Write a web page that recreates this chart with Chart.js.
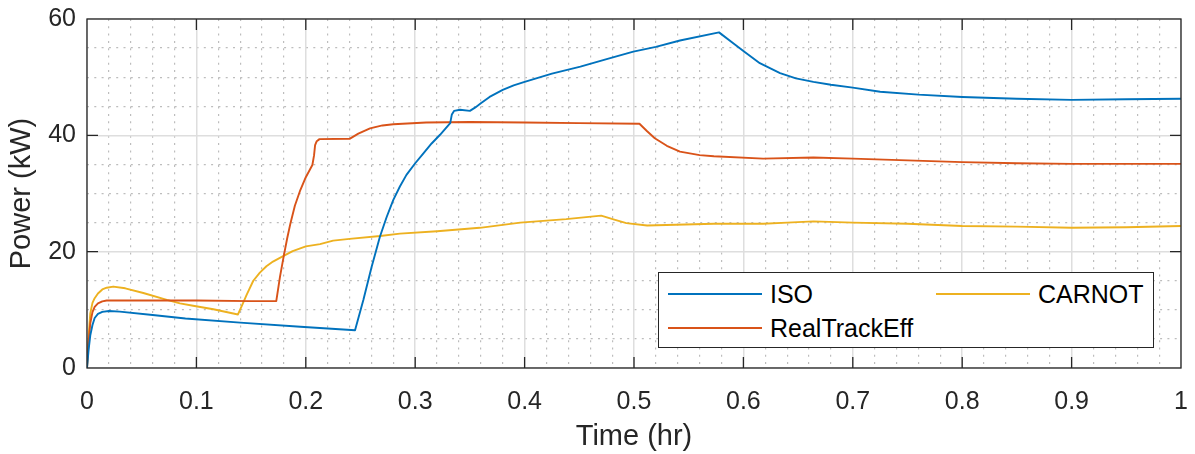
<!DOCTYPE html>
<html lang="en">

<head>
    <meta charset="UTF-8">
    <script src="https://cdn.jsdelivr.net/npm/chart.js"></script>
    <title>Power vs Time</title>
    <style>
        body { margin: 0; background: #fff; }
        #wrap { position: relative; width: 1195px; height: 454px; }
        #legend {
            position: absolute; left: 658px; top: 272px; width: 494px; height: 74px;
            border: 1.5px solid #262626; background: #fff;
            font-family: 'Liberation Sans', Arial, sans-serif; font-size: 25px; color: #000;
        }
        .item { position: absolute; height: 30px; line-height: 30px; white-space: nowrap; }
        .item span.ln { position: absolute; left: 0; top: 14px; width: 94px; height: 2px; }
        .item span.tx { position: absolute; left: 102px; top: 0; }
    </style>
</head>

<body>
    <div id="wrap">
        <canvas id="myChart" width="1195" height="454"></canvas>
        <div id="legend"></div>
    </div>
    <script>
        // Données (temps en h, puissance en kW)
        const isoTime = [0, 0.0015, 0.003, 0.005, 0.007, 0.01, 0.014, 0.02, 0.03, 0.06, 0.09, 0.14, 0.195, 0.245, 0.2526, 0.2602, 0.2678, 0.274, 0.28, 0.286, 0.292, 0.3, 0.3075, 0.315, 0.3227, 0.332, 0.3335, 0.3355, 0.341, 0.35, 0.355, 0.36, 0.368, 0.38, 0.39, 0.4, 0.425, 0.451, 0.475, 0.4994, 0.52, 0.542, 0.5777, 0.591, 0.6, 0.615, 0.6335, 0.648, 0.664, 0.68, 0.7, 0.725, 0.76, 0.8, 0.85, 0.9, 0.95, 1.0];
        const isoPower = [0, 3.2, 5.6, 7.4, 8.6, 9.3, 9.65, 9.8, 9.7, 9.1, 8.5, 7.8, 7.1, 6.5, 11.7, 17.4, 22.6, 26.0, 28.9, 31.2, 33.2, 35.2, 36.9, 38.6, 40.1, 42.1, 43.6, 44.2, 44.4, 44.2, 44.8, 45.5, 46.6, 47.8, 48.6, 49.2, 50.6, 51.8, 53.1, 54.4, 55.2, 56.3, 57.7, 55.8, 54.5, 52.4, 50.7, 49.8, 49.2, 48.7, 48.2, 47.5, 47.0, 46.6, 46.3, 46.1, 46.2, 46.3];

        const realTime = [0, 0.0015, 0.003, 0.005, 0.007, 0.01, 0.014, 0.018, 0.05, 0.1, 0.15, 0.173, 0.1765, 0.18, 0.183, 0.186, 0.19, 0.195, 0.2, 0.206, 0.2075, 0.2085, 0.21, 0.2125, 0.24, 0.248, 0.2587, 0.27, 0.28, 0.31, 0.35, 0.4, 0.45, 0.505, 0.512, 0.519, 0.53, 0.542, 0.56, 0.573, 0.618, 0.664, 0.7, 0.75, 0.8, 0.85, 0.9, 1.0];
        const realPower = [0, 4.5, 7.7, 9.6, 10.5, 11.1, 11.45, 11.6, 11.6, 11.6, 11.5, 11.5, 15.8, 19.4, 22.3, 24.9, 27.9, 30.6, 32.8, 34.9, 36.5, 38.3, 39.0, 39.35, 39.4, 40.3, 41.2, 41.7, 41.9, 42.2, 42.3, 42.2, 42.1, 42.0, 40.7, 39.5, 38.2, 37.2, 36.6, 36.4, 36.0, 36.2, 36.0, 35.7, 35.4, 35.2, 35.1, 35.1];

        const carnotTime = [0, 0.0015, 0.003, 0.005, 0.007, 0.01, 0.014, 0.018, 0.024, 0.035, 0.0515, 0.073, 0.085, 0.097, 0.1155, 0.138, 0.142, 0.146, 0.152, 0.158, 0.164, 0.17, 0.178, 0.188, 0.2, 0.213, 0.225, 0.24, 0.268, 0.286, 0.32, 0.359, 0.396, 0.438, 0.47, 0.482, 0.493, 0.512, 0.573, 0.618, 0.64, 0.664, 0.7, 0.75, 0.8, 0.85, 0.9, 0.95, 1.0];
        const carnotPower = [0, 5.5, 9.4, 11.2, 12.0, 12.8, 13.5, 13.8, 14.0, 13.7, 12.9, 11.7, 11.1, 10.7, 10.1, 9.2, 10.9, 12.6, 15.0, 16.4, 17.5, 18.3, 19.1, 20.1, 20.9, 21.3, 21.9, 22.2, 22.7, 23.1, 23.5, 24.1, 25.0, 25.6, 26.2, 25.5, 24.9, 24.5, 24.8, 24.8, 25.0, 25.2, 25.0, 24.8, 24.4, 24.3, 24.1, 24.2, 24.4];

        const seriesNames = ['ISO', 'RealTrackEff', 'CARNOT'];
        const seriesColors = ['#0072BD', '#D95319', '#EDB120'];
        const xTickValues = [0.1, 0.2, 0.3, 0.4, 0.5, 0.6, 0.7, 0.8, 0.9];
        const yTickValues = [20, 40];

        const FONT = "'Liberation Sans', Arial, sans-serif";
        const AXIS = '#262626';

        const toPoints = (xs, ys) => xs.map((x, i) => ({ x: x, y: ys[i] }));

        const isMult = (v, step) => Math.abs(v / step - Math.round(v / step)) < 1e-6;

        // cadre + graduations intérieures façon MATLAB
        const boxPlugin = {
            id: 'boxPlugin',
            afterDraw(chart) {
                const { ctx, scales } = chart;
                const xs = scales.x, ys = scales.y;
                const l = xs.getPixelForValue(0), r = xs.getPixelForValue(1);
                const t = ys.getPixelForValue(60), b = ys.getPixelForValue(0);
                ctx.save();
                ctx.strokeStyle = AXIS;
                ctx.lineWidth = 1.3;
                ctx.beginPath();
                xTickValues.forEach(v => {
                    const px = xs.getPixelForValue(v);
                    ctx.moveTo(px, b); ctx.lineTo(px, b - 11);
                    ctx.moveTo(px, t); ctx.lineTo(px, t + 11);
                });
                yTickValues.forEach(v => {
                    const py = ys.getPixelForValue(v);
                    ctx.moveTo(l, py); ctx.lineTo(l + 11, py);
                    ctx.moveTo(r, py); ctx.lineTo(r - 11, py);
                });
                ctx.stroke();
                ctx.strokeRect(l, t, r - l, b - t);
                ctx.restore();
            }
        };

        const chartConfig = {
            type: 'line',
            data: {
                datasets: [
                    { label: seriesNames[0], data: toPoints(isoTime, isoPower), borderColor: seriesColors[0] },
                    { label: seriesNames[1], data: toPoints(realTime, realPower), borderColor: seriesColors[1] },
                    { label: seriesNames[2], data: toPoints(carnotTime, carnotPower), borderColor: seriesColors[2] },
                ],
            },
            options: {
                responsive: false,
                animation: false,
                events: [],
                layout: { padding: { left: 0, right: 14, top: 19, bottom: 0 } },
                elements: {
                    line: { borderWidth: 1.9, tension: 0, borderJoinStyle: 'round', fill: false },
                    point: { radius: 0 },
                },
                plugins: { legend: { display: false }, tooltip: { enabled: false } },
                scales: {
                    xMinor: {
                        type: 'linear', position: 'bottom', min: 0, max: 1,
                        ticks: { display: false, stepSize: 0.02 },
                        grid: {
                            drawTicks: false, lineWidth: 1.2,
                            color: c => isMult(c.tick.value, 0.1) ? 'rgba(0,0,0,0)' : '#bdbdbd',
                        },
                        border: { display: false, dash: [2, 5.3] },
                        afterFit: s => { s.height = 0; },
                    },
                    yMinor: {
                        type: 'linear', position: 'left', min: 0, max: 60,
                        ticks: { display: false, stepSize: 5 },
                        grid: {
                            drawTicks: false, lineWidth: 1.2,
                            color: c => isMult(c.tick.value, 20) ? 'rgba(0,0,0,0)' : '#bdbdbd',
                        },
                        border: { display: false, dash: [2, 5.3] },
                        afterFit: s => { s.width = 0; },
                    },
                    x: {
                        type: 'linear', position: 'bottom', min: 0, max: 1,
                        ticks: {
                            stepSize: 0.1, padding: 0, color: AXIS, font: { family: FONT, size: 25 },
                            callback: v => String(+v.toFixed(2)),
                        },
                        grid: { drawTicks: true, tickLength: 19, tickColor: 'rgba(0,0,0,0)', color: '#dedede', lineWidth: 1.5 },
                        border: { display: false },
                        title: { display: true, text: 'Time (hr)', color: AXIS, font: { family: FONT, size: 29 }, padding: { top: 0, bottom: 0 } },
                        afterFit: s => { s.height = 86; },
                    },
                    y: {
                        type: 'linear', position: 'left', min: 0, max: 60,
                        ticks: { stepSize: 20, padding: 0, color: AXIS, font: { family: FONT, size: 25 } },
                        grid: { drawTicks: true, tickLength: 11, tickColor: 'rgba(0,0,0,0)', color: '#dedede', lineWidth: 1.5 },
                        border: { display: false },
                        title: { display: true, text: 'Power (kW)', color: AXIS, font: { family: FONT, size: 29 }, padding: { top: 5, bottom: 0 } },
                        afterFit: s => { s.width = 87; },
                    },
                },
            },
            plugins: [boxPlugin],
        };

        const ctx = document.getElementById('myChart').getContext('2d');
        const myChart = new Chart(ctx, chartConfig);

        // légende en deux colonnes, dans le cadre
        const legendPos = [{ left: 9, top: 6 }, { left: 9, top: 40 }, { left: 277, top: 6 }];
        const legendBox = document.getElementById('legend');
        seriesNames.forEach((name, i) => {
            const it = document.createElement('div');
            it.className = 'item';
            it.style.left = legendPos[i].left + 'px';
            it.style.top = legendPos[i].top + 'px';
            it.innerHTML = '<span class="ln" style="background:' + seriesColors[i] + '"></span><span class="tx">' + name + '</span>';
            legendBox.appendChild(it);
        });
    </script>
</body>

</html>
